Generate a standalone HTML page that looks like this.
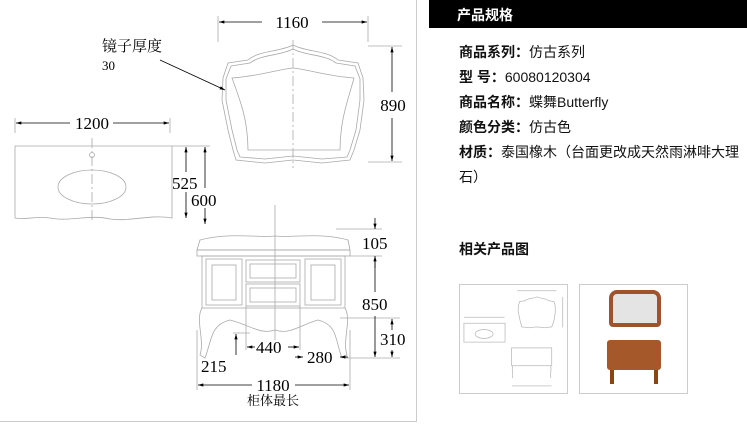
<!DOCTYPE html>
<html><head><meta charset="utf-8"><style>
html,body{margin:0;padding:0;background:#fff;width:747px;height:428px;overflow:hidden}
.t{position:absolute;font-family:"Liberation Sans","Noto Sans CJK SC",sans-serif;font-size:14px;color:#111;white-space:nowrap}
b{font-weight:bold}
</style></head><body>
<svg width="747" height="428" style="position:absolute;left:0;top:0" font-family="Liberation Serif,Noto Serif CJK SC,serif">
<defs><marker id="a" viewBox="0 0 10 6" refX="10" refY="3" markerWidth="9" markerHeight="4" orient="auto-start-reverse"><path d="M0,0L10,3L0,6z" fill="#000"/></marker></defs>
<g stroke="#ccc" fill="none" stroke-width="1">
<line x1="416.5" y1="0" x2="416.5" y2="422"/>
<line x1="0" y1="421.5" x2="416" y2="421.5"/>
</g>
<!-- mirror -->
<g stroke="#aaa" fill="none" stroke-width="0.8">
<path d="M293,45 C280,52 260,50 248,60 L228,63 L223,78 L222,100 L228,130 L233,150 L236,160 L265,163 L293,160 L322,163 L350,160 L354,150 L360,130 L364,100 L363,78 L358,63 L338,60 C326,50 306,52 293,45Z"/>
<path d="M293,49 C280,56 262,54 250,63 L231,66 L226,79 L226,100 L232,130 L237,150 L240,157 L265,159 L293,156 L322,159 L347,157 L350,150 L356,130 L360,100 L360,79 L355,66 L336,63 C324,54 306,56 293,49Z"/>
<path d="M232,78 C260,76 275,70 293,68 C311,70 326,76 354,78 C348,100 340,120 340,150 L248,150 C248,120 240,100 232,78Z"/>
<line x1="293" y1="40" x2="293" y2="168" stroke-dasharray="10,3,2,3"/>
<line x1="218" y1="16" x2="218" y2="42"/><line x1="368" y1="16" x2="368" y2="42"/>
<line x1="368" y1="46" x2="402" y2="46"/><line x1="368" y1="162" x2="402" y2="162"/>
<!-- counter -->
<path d="M15,146 L172,146 L172,218 C150,214 130,222 110,219 C90,214 70,222 50,218 C35,216 25,220 15,218 Z"/>
<ellipse cx="92" cy="187" rx="34" ry="17"/>
<circle cx="92" cy="155" r="2.5"/>
<line x1="92" y1="138" x2="92" y2="222" stroke-dasharray="10,3,2,3"/>
<line x1="15" y1="118" x2="15" y2="133"/><line x1="170" y1="118" x2="170" y2="133"/>
<line x1="172" y1="146" x2="210" y2="146"/>
<!-- cabinet -->
<path d="M200,240 C230,232 260,238 275,236 C290,238 320,232 348,240 L350,250 L197,250 Z"/>
<rect x="197" y="250" width="153" height="6"/>
<rect x="202" y="256" width="143" height="52"/>
<rect x="206" y="259" width="36" height="46"/><rect x="212" y="265" width="24" height="35"/>
<rect x="305" y="259" width="36" height="46"/><rect x="311" y="265" width="24" height="35"/>
<rect x="246" y="260" width="54" height="22"/><rect x="250" y="264" width="46" height="14"/>
<rect x="246" y="284" width="54" height="22"/><rect x="250" y="288" width="46" height="14"/>
<path d="M202,308 C195,320 205,340 200,355 L205,358 C212,340 210,325 230,320 C250,325 260,335 275,330 C290,335 300,325 318,320 C338,325 335,340 342,358 L347,355 C342,340 352,320 345,308"/>
<line x1="275" y1="205" x2="275" y2="340"/>
<line x1="246" y1="306" x2="246" y2="350"/><line x1="300" y1="306" x2="300" y2="350"/>
<line x1="197" y1="330" x2="197" y2="390"/><line x1="350" y1="330" x2="350" y2="390"/>
<line x1="336" y1="229" x2="382" y2="229"/><line x1="350" y1="256" x2="382" y2="256"/>
<line x1="340" y1="318" x2="400" y2="318"/><line x1="345" y1="358" x2="400" y2="358"/>
<line x1="233" y1="333" x2="250" y2="333"/>
</g>
<g stroke="#000" stroke-width="0.8" fill="none">
<line x1="219" y1="22" x2="262" y2="22" marker-start="url(#a)"/><line x1="322" y1="22" x2="367" y2="22" marker-end="url(#a)"/>
<line x1="392" y1="47" x2="392" y2="92" marker-start="url(#a)"/><line x1="392" y1="118" x2="392" y2="161" marker-end="url(#a)"/>
<line x1="16" y1="123" x2="70" y2="123" marker-start="url(#a)"/><line x1="113" y1="123" x2="169" y2="123" marker-end="url(#a)"/>
<line x1="186" y1="147" x2="186" y2="172" marker-start="url(#a)"/><line x1="186" y1="192" x2="186" y2="218" marker-end="url(#a)"/>
<line x1="205" y1="147" x2="205" y2="188" marker-start="url(#a)"/><line x1="205" y1="208" x2="205" y2="224" marker-end="url(#a)"/>
<line x1="160" y1="60" x2="225" y2="90" marker-end="url(#a)"/>
<line x1="375" y1="218" x2="375" y2="229" marker-end="url(#a)"/><line x1="375" y1="256" x2="375" y2="268" marker-start="url(#a)"/>
<line x1="375" y1="257" x2="375" y2="292"/><line x1="375" y1="316" x2="375" y2="357" marker-end="url(#a)"/>
<line x1="392" y1="319" x2="392" y2="330" marker-start="url(#a)"/><line x1="392" y1="350" x2="392" y2="357" marker-end="url(#a)"/>
<line x1="236" y1="334" x2="236" y2="355" marker-start="url(#a)"/>
<line x1="247" y1="347" x2="255" y2="347" marker-start="url(#a)"/><line x1="288" y1="347" x2="299" y2="347" marker-end="url(#a)"/>
<line x1="295" y1="357" x2="303" y2="357" marker-end="url(#a)"/><line x1="340" y1="357" x2="348" y2="357" marker-start="url(#a)"/>
<line x1="198" y1="385" x2="252" y2="385" marker-start="url(#a)"/><line x1="295" y1="385" x2="349" y2="385" marker-end="url(#a)"/>
</g>
<g fill="#000" font-size="17">
<text x="292" y="28" text-anchor="middle">1160</text>
<text x="393" y="111" text-anchor="middle">890</text>
<text x="92" y="129" text-anchor="middle">1200</text>
<text x="172" y="189">525</text>
<text x="191" y="206">600</text>
<text x="362" y="249">105</text>
<text x="362" y="310">850</text>
<text x="380" y="345">310</text>
<text x="256" y="353">440</text>
<text x="307" y="363">280</text>
<text x="201" y="372">215</text>
<text x="273" y="391" text-anchor="middle">1180</text>
<text x="273" y="405" text-anchor="middle" font-size="13">柜体最长</text>
<text x="102" y="51" font-size="15">镜子厚度</text>
<text x="102" y="70" font-size="13">30</text>
</g>
<!-- thumbnail 1 mini drawing -->
<g transform="translate(460,285) scale(0.262)" stroke="#bbb" fill="none" stroke-width="3">
<path d="M293,45 C280,52 260,50 248,60 L228,63 L223,78 L222,100 L228,130 L233,150 L236,160 L265,163 L293,160 L322,163 L350,160 L354,150 L360,130 L364,100 L363,78 L358,63 L338,60 C326,50 306,52 293,45Z"/>
<path d="M15,146 L172,146 L172,218 L15,218 Z"/>
<ellipse cx="92" cy="187" rx="34" ry="17"/>
<rect x="197" y="240" width="153" height="68"/>
<path d="M202,308 C195,320 205,340 200,355 M345,308 C352,320 342,340 347,355"/>
<line x1="218" y1="22" x2="368" y2="22"/><line x1="15" y1="123" x2="170" y2="123"/>
<line x1="392" y1="46" x2="392" y2="162"/><line x1="198" y1="385" x2="349" y2="385"/>
</g>
</svg>
<div style="position:absolute;left:429px;top:0;width:318px;height:28px;background:#000"></div>
<div class="t" style="left:457px;top:5px;color:#fff"><b>产品规格</b></div>
<div class="t" style="left:459px;top:42px"><b>商品系列：</b>仿古系列</div>
<div class="t" style="left:459px;top:67px"><b>型 号：</b>60080120304</div>
<div class="t" style="left:459px;top:92px"><b>商品名称：</b>蝶舞Butterfly</div>
<div class="t" style="left:459px;top:117px"><b>颜色分类：</b>仿古色</div>
<div class="t" style="left:459px;top:142px"><b>材质：</b>泰国橡木（台面更改成天然雨淋啡大理</div>
<div class="t" style="left:459px;top:167px">石）</div>
<div class="t" style="left:459px;top:239px"><b>相关产品图</b></div>
<div style="position:absolute;left:459px;top:284px;width:107px;height:108px;border:1px solid #ccc"></div>
<div style="position:absolute;left:579px;top:284px;width:107px;height:108px;border:1px solid #ccc">
<div style="position:absolute;left:29px;top:5px;width:44px;height:29px;border:4px solid #a0522d;background:#e4e4e4;border-radius:8px 8px 4px 4px"></div>
<div style="position:absolute;left:27px;top:55px;width:54px;height:30px;background:#a5582a;border-radius:3px"></div>
<div style="position:absolute;left:30px;top:85px;width:4px;height:14px;background:#8b4513"></div>
<div style="position:absolute;left:74px;top:85px;width:4px;height:14px;background:#8b4513"></div>
</div>
</body></html>
